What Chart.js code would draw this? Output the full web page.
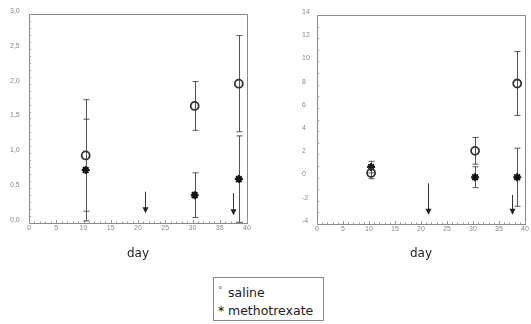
<!DOCTYPE html>
<html>
<head>
<meta charset="utf-8">
<script src="https://cdn.jsdelivr.net/npm/chart.js@4.4.1/dist/chart.umd.min.js"></script>
<style>
  body { margin: 0; background: #fff; width: 531px; height: 324px; overflow: hidden; position: relative; font-family: "DejaVu Sans", sans-serif; }
  .panel { position: absolute; top: 0; height: 262px; }
  #legend { position: absolute; left: 213px; top: 277px; width: 111px; height: 44px; border: 1px solid #888; box-sizing: border-box; font-size: 12.5px; color: #222; line-height: 18px; padding: 3px 0 0 4px; }
  #legend .m { display: inline-block; width: 10px; color: #666; }
</style>
</head>
<body>
<div class="panel" style="left:0;width:262px"><canvas id="leftChart"></canvas></div>
<div class="panel" style="left:290px;width:241px"><canvas id="rightChart"></canvas></div>
<div id="legend">
  <div><span class="m" style="font-size:9px;vertical-align:4px">°</span>saline</div>
  <div><span class="m" style="color:#111">*</span>methotrexate</div>
</div>
<script>
	// 측정일 (day)
	const days = [10.4, 30.4, 38.5];

	// 왼쪽 그래프
	const salineA = [0.97, 1.68, 2.0];
	const salineAErr = [0.8, 0.35, 0.69];
	const mtxA = [0.76, 0.4, 0.63];
	const mtxAErr = [0.73, 0.32, 0.62];

	// 오른쪽 그래프
	const salineB = [0.4, 2.3, 8.1];
	const salineBErr = [0.5, 1.15, 2.75];
	const mtxB = [0.9, 0.03, 0.03];
	const mtxBErr = [0.5, 0.9, 2.5];

	// 화살표 (투여일)
	const arrowDays = [21.3, 37.5];
	const arrowTopA = [0.45, 0.43];
	const arrowTipA = [0.14, 0.11];
	const arrowTopB = [-0.5, -1.5];
	const arrowTipB = [-3.2, -3.2];

	// 눈금
	const xTicks = [0, 5, 10, 15, 20, 25, 30, 35, 40];
	const yTicksA = [0, 0.5, 1.0, 1.5, 2.0, 2.5, 3.0];
	const yTicksB = [-4, -2, 0, 2, 4, 6, 8, 10, 12, 14];

	const toPoints = (ys) => days.map((d, i) => ({x: d, y: ys[i]}));

	// 오차막대 + 화살표 + 테두리 그리는 플러그인
	const extras = {
		id: 'extras',
		beforeDatasetsDraw(chart, args, opts) {
			const {ctx, chartArea: a, scales: {x, y}} = chart;
			ctx.save();
			// 테두리
			ctx.strokeStyle = '#8a8a8a';
			ctx.lineWidth = 1;
			ctx.beginPath();
			ctx.moveTo(a.left, a.top + 0.5);
			ctx.lineTo(a.right + 0.5, a.top + 0.5);
			ctx.lineTo(a.right + 0.5, a.bottom);
			ctx.stroke();
			// 작은 눈금
			ctx.strokeStyle = '#999';
			ctx.beginPath();
			for (let v = 0; v <= 40; v += 1) {
				const px = Math.round(x.getPixelForValue(v)) + 0.5;
				const len = v % 5 === 0 ? 3 : 1.5;
				ctx.moveTo(px, a.bottom);
				ctx.lineTo(px, a.bottom - len);
			}
			for (let v = y.min; v <= y.max + 1e-9; v += opts.minor) {
				const py = Math.round(y.getPixelForValue(v)) + 0.5;
				ctx.moveTo(a.left, py);
				ctx.lineTo(a.left + 2, py);
			}
			ctx.stroke();
			// 오차막대
			ctx.strokeStyle = '#555';
			ctx.lineWidth = 1;
			chart.data.datasets.forEach((ds) => {
				ds.data.forEach((p, i) => {
					const e = ds.errors[i];
					const px = Math.round(x.getPixelForValue(p.x)) + 0.5;
					const hi = y.getPixelForValue(p.y + e);
					const lo = y.getPixelForValue(Math.max(p.y - e, y.min));
					ctx.beginPath();
					ctx.moveTo(px, hi); ctx.lineTo(px, lo);
					ctx.moveTo(px - 3, hi); ctx.lineTo(px + 3, hi);
					ctx.moveTo(px - 3, lo); ctx.lineTo(px + 3, lo);
					ctx.stroke();
				});
			});
			// 화살표
			ctx.strokeStyle = '#333';
			ctx.fillStyle = '#222';
			opts.days.forEach((d, i) => {
				const px = Math.round(x.getPixelForValue(d)) + 0.5;
				const top = y.getPixelForValue(opts.top[i]);
				const tip = y.getPixelForValue(opts.tip[i]);
				ctx.beginPath();
				ctx.moveTo(px, top); ctx.lineTo(px, tip - 5);
				ctx.stroke();
				ctx.beginPath();
				ctx.moveTo(px - 3, tip - 6); ctx.lineTo(px + 3, tip - 6); ctx.lineTo(px, tip);
				ctx.closePath();
				ctx.fill();
			});
			ctx.restore();
		}
	};

	function makeChart(id, saline, salineErr, mtx, mtxErr, yMin, yMax, yTicks, fmt, pad, yWidth, xHeight, arrows) {
		return new Chart(document.getElementById(id), {
			type: 'scatter',
			data: {
				datasets: [
					{
						label: 'saline',
						data: toPoints(saline),
						errors: salineErr,
						pointStyle: 'circle',
						pointRadius: 4,
						backgroundColor: 'rgba(0,0,0,0)',
						borderColor: '#333',
						pointBorderWidth: 1.8
					},
					{
						label: 'methotrexate',
						data: toPoints(mtx),
						errors: mtxErr,
						pointStyle: 'star',
						pointRadius: 4,
						backgroundColor: '#111',
						borderColor: '#111',
						pointBorderWidth: 2
					}
				]
			},
			options: {
				responsive: true,
				maintainAspectRatio: false,
				animation: false,
				layout: { padding: pad },
				plugins: {
					legend: { display: false },
					tooltip: { enabled: false },
					extras: arrows
				},
				scales: {
					x: {
						type: 'linear',
						min: 0,
						max: 40,
						afterBuildTicks: (s) => { s.ticks = xTicks.map(v => ({value: v})); },
						afterFit: (s) => { s.height = xHeight; },
						ticks: { color: '#888', font: { size: 7 }, padding: 1, maxRotation: 0 },
						grid: { drawOnChartArea: false, drawTicks: false },
						border: { color: '#8a8a8a' },
						title: { display: true, text: 'day', color: '#222', font: { size: 12, family: 'DejaVu Sans' }, padding: { top: 0, bottom: 1 } }
					},
					y: {
						min: yMin,
						max: yMax,
						afterBuildTicks: (s) => { s.ticks = yTicks.map(v => ({value: v})); },
						afterFit: (s) => { s.width = yWidth; },
						ticks: { color: '#888', font: { size: 7 }, crossAlign: 'far', labelOffset: -3, callback: fmt },
						grid: { drawOnChartArea: false, drawTicks: false },
						border: { color: '#8a8a8a' }
					}
				}
			},
			plugins: [extras]
		});
	}

	makeChart('leftChart', salineA, salineAErr, mtxA, mtxAErr, 0, 3, yTicksA,
		(v) => v.toFixed(1).replace('.', ','),
		{ top: 14, left: 10, right: 15, bottom: 0 }, 19, 39,
		{ days: arrowDays, top: arrowTopA, tip: arrowTipA, minor: 0.1 });

	makeChart('rightChart', salineB, salineBErr, mtxB, mtxBErr, -4, 14, yTicksB,
		(v) => String(v),
		{ top: 15, left: 12, right: 3, bottom: 0 }, 15, 38,
		{ days: arrowDays, top: arrowTopB, tip: arrowTipB, minor: 1 });
</script>
</body>
</html>
